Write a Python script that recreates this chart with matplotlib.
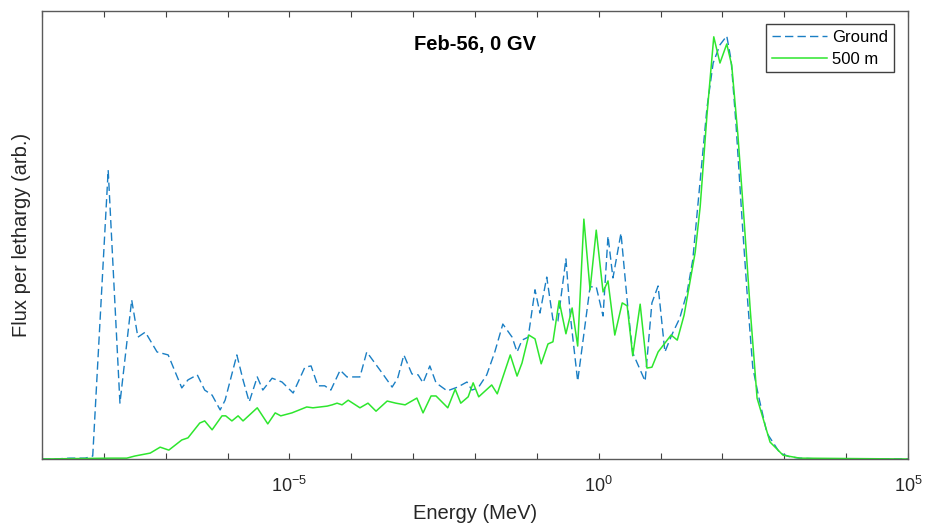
import numpy as np
import matplotlib
matplotlib.use("Agg")
import matplotlib.pyplot as plt
from matplotlib.ticker import FixedLocator, FuncFormatter, NullLocator

plt.rcParams["font.family"] = ["Liberation Sans", "DejaVu Sans"]
plt.rcParams["mathtext.fontset"] = "custom"
plt.rcParams["mathtext.rm"] = "Liberation Sans"
plt.rcParams["mathtext.it"] = "Liberation Sans:italic"
plt.rcParams["mathtext.bf"] = "Liberation Sans:bold"
plt.rcParams["axes.unicode_minus"] = False

# Energies are stored as log10(E / MeV); flux per lethargy in arbitrary units
ground_log10_mev = [
    -9.00, -8.79, -8.55, -8.39, -8.30, -8.18, -7.93, -7.74, -7.55, -7.45,
    -7.33, -7.14, -6.96, -6.74, -6.64, -6.49, -6.37, -6.25, -6.12, -6.04,
    -5.85, -5.75, -5.65, -5.52, -5.43, -5.28, -5.12, -4.94, -4.75, -4.65,
    -4.54, -4.43, -4.33, -4.18, -4.07, -3.86, -3.75, -3.63, -3.50, -3.34,
    -3.25, -3.15, -3.02, -2.92, -2.84, -2.73, -2.63, -2.45, -2.28, -2.13,
    -2.05, -1.95, -1.81, -1.68, -1.55, -1.40, -1.32, -1.24, -1.14, -1.03,
    -0.95, -0.84, -0.74, -0.66, -0.53, -0.46, -0.34, -0.14, -0.04, 0.07,
    0.15, 0.23, 0.36, 0.47, 0.55, 0.75, 0.86, 0.96, 1.07, 1.18,
    1.31, 1.43, 1.52, 1.75, 1.85, 1.96, 2.07, 2.14, 2.22, 2.32,
    2.41, 2.49, 2.58, 2.72, 2.93, 3.09, 3.25, 3.58, 5.00,
]
ground_flux = [
    0.000, 0.000, 0.002, 0.002, 0.002, 0.007, 0.683, 0.132, 0.376, 0.288,
    0.300, 0.253, 0.246, 0.168, 0.187, 0.199, 0.163, 0.151, 0.116, 0.139,
    0.246, 0.187, 0.135, 0.194, 0.163, 0.191, 0.182, 0.156, 0.217, 0.220,
    0.173, 0.173, 0.163, 0.210, 0.194, 0.194, 0.253, 0.229, 0.203, 0.170,
    0.191, 0.246, 0.201, 0.199, 0.180, 0.220, 0.180, 0.161, 0.170, 0.182,
    0.163, 0.168, 0.199, 0.253, 0.319, 0.288, 0.253, 0.281, 0.288, 0.400,
    0.345, 0.430, 0.329, 0.326, 0.473, 0.340, 0.184, 0.407, 0.407, 0.338,
    0.527, 0.428, 0.534, 0.359, 0.251, 0.184, 0.369, 0.409, 0.253, 0.293,
    0.333, 0.395, 0.470, 0.830, 0.936, 0.979, 1.000, 0.943, 0.790, 0.560,
    0.369, 0.217, 0.151, 0.061, 0.014, 0.005, 0.002, 0.000, 0.000,
]

alt500_log10_mev = [
    -9.00, -7.90, -7.63, -7.50, -7.25, -7.09, -6.95, -6.74, -6.64, -6.45,
    -6.37, -6.25, -6.09, -6.03, -5.93, -5.83, -5.75, -5.52, -5.35, -5.23,
    -5.14, -4.96, -4.72, -4.62, -4.39, -4.31, -4.23, -4.15, -4.05, -3.86,
    -3.73, -3.60, -3.42, -3.28, -3.13, -2.94, -2.84, -2.71, -2.63, -2.44,
    -2.32, -2.23, -2.11, -2.03, -1.94, -1.73, -1.64, -1.43, -1.32, -1.24,
    -1.13, -1.03, -0.93, -0.82, -0.74, -0.64, -0.53, -0.43, -0.34, -0.24,
    -0.14, -0.04, 0.07, 0.15, 0.26, 0.38, 0.46, 0.55, 0.67, 0.78,
    0.86, 0.96, 1.17, 1.27, 1.38, 1.56, 1.64, 1.75, 1.86, 1.96,
    2.07, 2.15, 2.25, 2.35, 2.45, 2.56, 2.77, 2.98, 3.25, 5.00,
]
alt500_flux = [
    0.000, 0.002, 0.002, 0.007, 0.014, 0.028, 0.021, 0.045, 0.050, 0.085,
    0.090, 0.069, 0.102, 0.102, 0.090, 0.102, 0.090, 0.121, 0.083, 0.109,
    0.102, 0.109, 0.123, 0.121, 0.125, 0.128, 0.132, 0.128, 0.139, 0.121,
    0.132, 0.113, 0.137, 0.132, 0.128, 0.144, 0.109, 0.149, 0.149, 0.121,
    0.165, 0.132, 0.147, 0.180, 0.147, 0.175, 0.154, 0.246, 0.196, 0.227,
    0.293, 0.284, 0.225, 0.272, 0.277, 0.374, 0.296, 0.357, 0.267, 0.567,
    0.400, 0.541, 0.395, 0.421, 0.293, 0.369, 0.362, 0.244, 0.366, 0.215,
    0.217, 0.253, 0.293, 0.281, 0.340, 0.489, 0.596, 0.813, 0.998, 0.936,
    0.981, 0.931, 0.766, 0.565, 0.352, 0.144, 0.040, 0.009, 0.002, 0.000,
]

series_labels = ["Ground", "500 m"]
title_text = "Feb-56, 0 GV"
decade_exponents = list(range(-9, 6))
labelled_exponents = [-5, 0, 5]

fig = plt.figure(figsize=(9.32, 5.27), dpi=100)
ax = fig.add_axes([42 / 932, 68 / 527, 866 / 932, 448 / 527])

ax.plot(10.0 ** np.array(ground_log10_mev), ground_flux,
        color="#1a7fc4", lw=1.0, linestyle=(0, (6.0, 3.0)), label=series_labels[0])
ax.plot(10.0 ** np.array(alt500_log10_mev), alt500_flux,
        color="#2ee62e", lw=1.1, label=series_labels[1])

ax.set_xscale("log")
ax.set_xlim(1e-9, 1e5)
ax.set_ylim(0, 1.059)

ax.xaxis.set_major_locator(FixedLocator([10.0 ** e for e in decade_exponents]))
ax.xaxis.set_minor_locator(NullLocator())


def decade_label(val, pos):
    e = int(round(np.log10(val)))
    return r"$10^{%d}$" % e if e in labelled_exponents else ""


ax.xaxis.set_major_formatter(FuncFormatter(decade_label))
ax.set_yticks([])
ax.tick_params(axis="x", which="major", direction="in", length=4.5, width=0.8,
               top=True, colors="#404040", labelcolor="#262626",
               labelsize=13, pad=12)

for sp in ax.spines.values():
    sp.set_color("#5a5a5a")
    sp.set_linewidth(1.0)

ax.set_xlabel("Energy (MeV)", fontsize=14.5, color="#262626", labelpad=6)
ax.set_ylabel("Flux per lethargy (arb.)", fontsize=14.5, color="#262626", labelpad=8)

ax.text(0.5, 0.926, title_text, transform=ax.transAxes, ha="center", va="center",
        fontsize=14.5, fontweight="bold", color="#000000")

leg = ax.legend(loc="upper right", bbox_to_anchor=(894 / 932, (527 - 24) / 527),
                bbox_transform=fig.transFigure, borderaxespad=0.0,
                fontsize=12, handlelength=3.3, handletextpad=0.3,
                borderpad=0.35, labelspacing=0.4, fancybox=False,
                framealpha=1.0, edgecolor="#404040")
leg.get_frame().set_linewidth(1.0)

fig.savefig("out.png", dpi=100)
